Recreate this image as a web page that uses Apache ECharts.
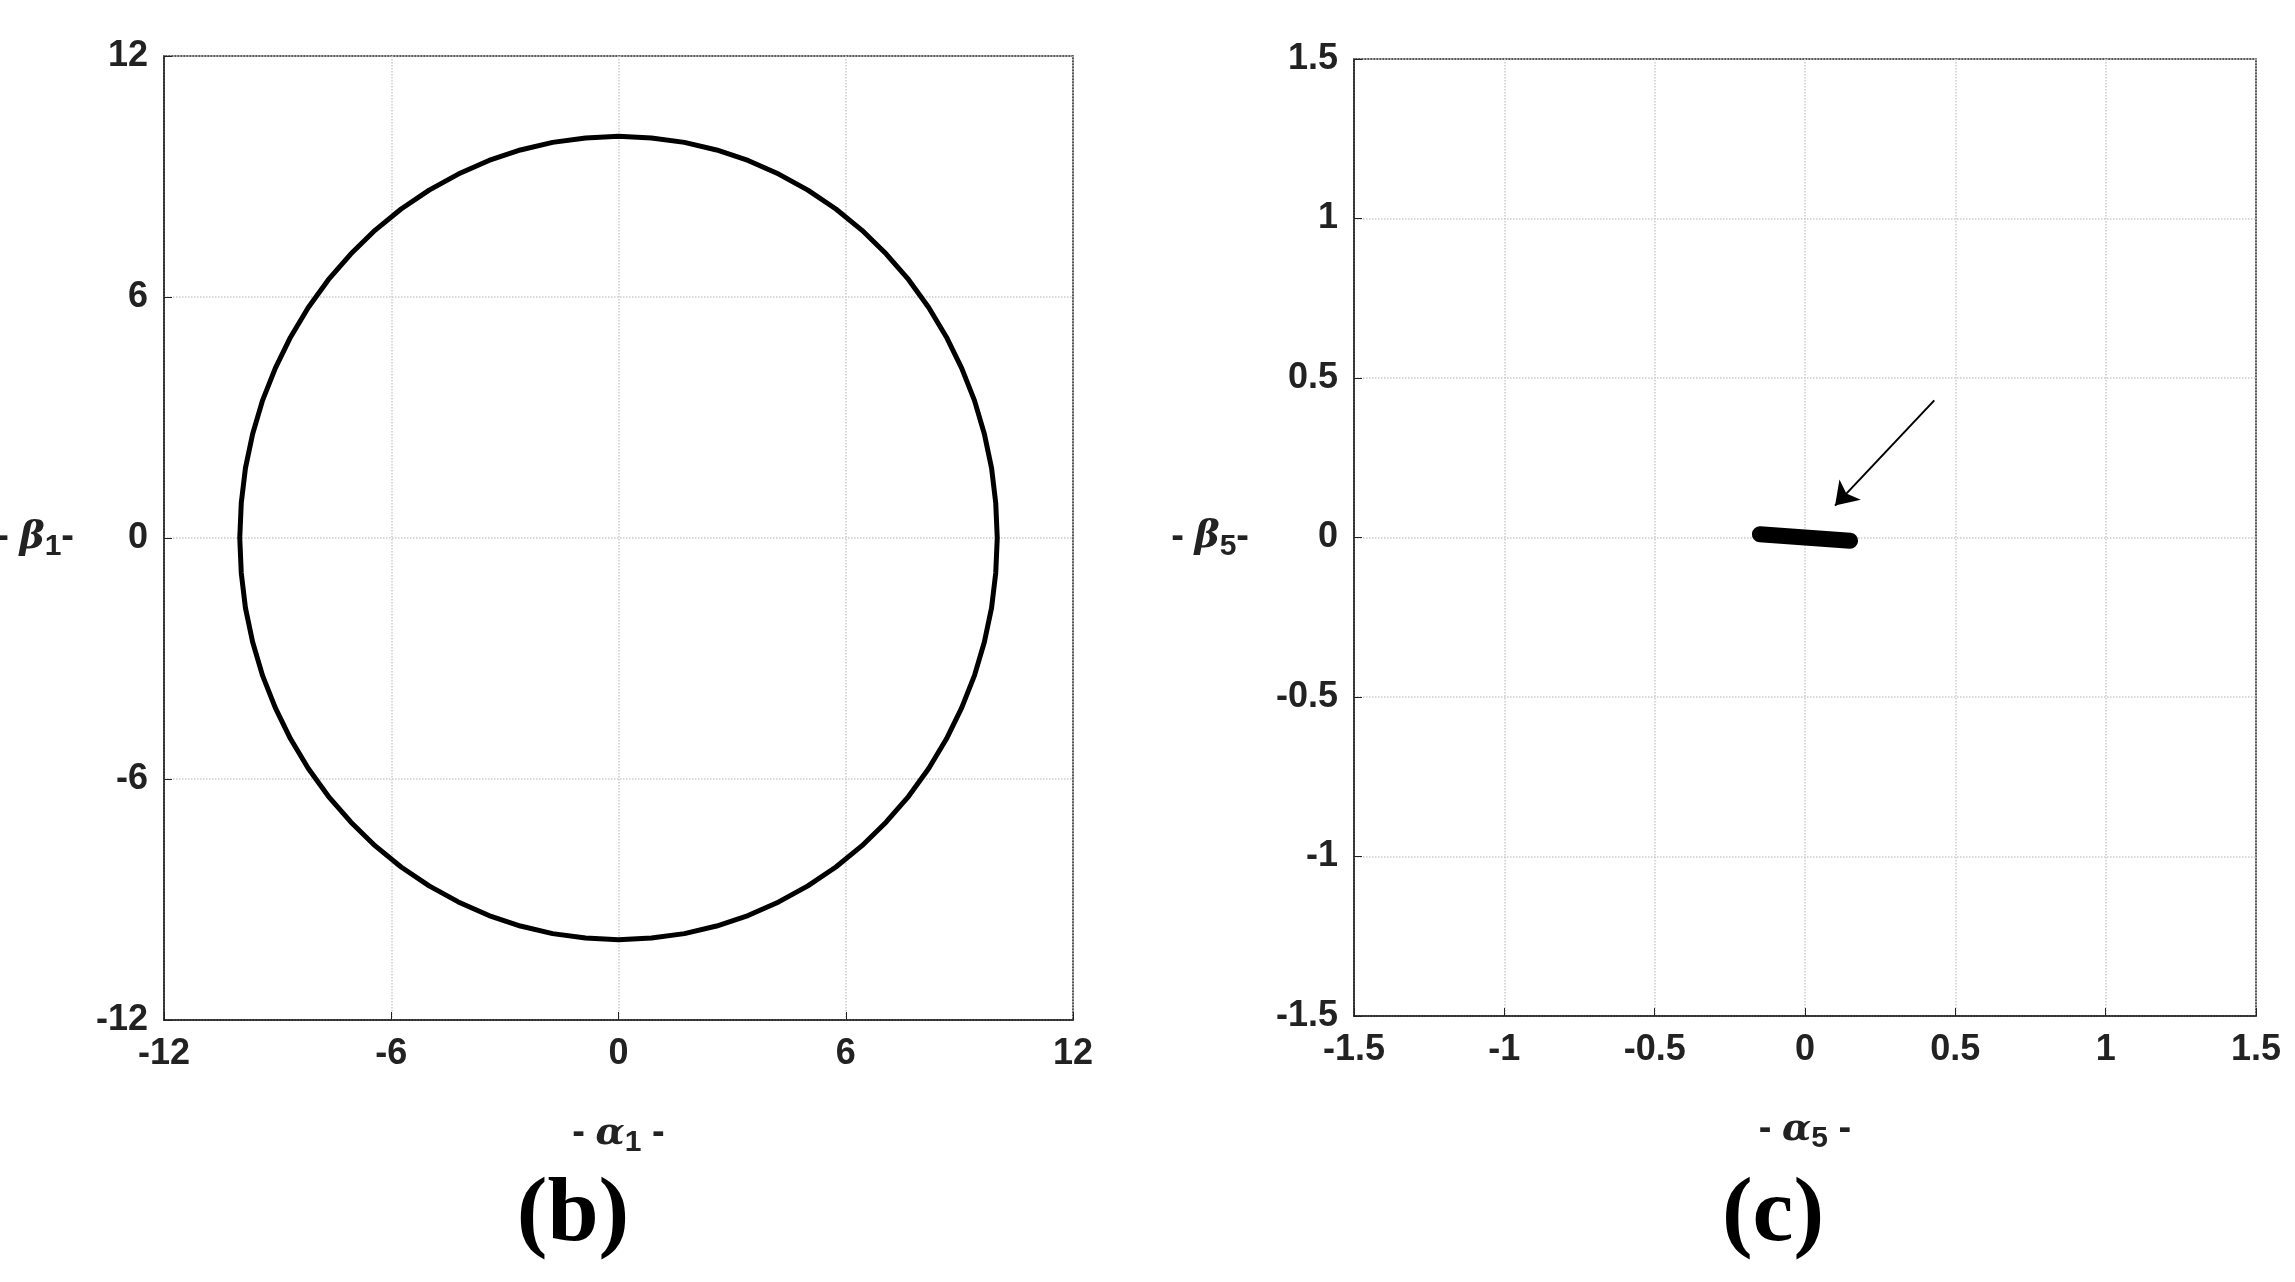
<!DOCTYPE html><html><head><meta charset="utf-8">
<script src="https://cdn.jsdelivr.net/npm/echarts@6/dist/echarts.min.js"></script>
<style>html,body{margin:0;background:#fff}#c{width:2295px;height:1282px}</style></head><body><div id="c"></div><script>
const circleX=[10,9.96,9.85,9.66,9.40,9.06,8.66,8.19,7.66,7.07,6.43,5.74,5,4.23,3.42,2.59,1.74,0.87,0,-0.87,-1.74,-2.59,-3.42,-4.23,-5,-5.74,-6.43,-7.07,-7.66,-8.19,-8.66,-9.06,-9.40,-9.66,-9.85,-9.96,-10,-9.96,-9.85,-9.66,-9.40,-9.06,-8.66,-8.19,-7.66,-7.07,-6.43,-5.74,-5,-4.23,-3.42,-2.59,-1.74,-0.87,0,0.87,1.74,2.59,3.42,4.23,5,5.74,6.43,7.07,7.66,8.19,8.66,9.06,9.40,9.66,9.85,9.96,10];
const circleY=[0,0.87,1.74,2.59,3.42,4.23,5,5.74,6.43,7.07,7.66,8.19,8.66,9.06,9.40,9.66,9.85,9.96,10,9.96,9.85,9.66,9.40,9.06,8.66,8.19,7.66,7.07,6.43,5.74,5,4.23,3.42,2.59,1.74,0.87,0,-0.87,-1.74,-2.59,-3.42,-4.23,-5,-5.74,-6.43,-7.07,-7.66,-8.19,-8.66,-9.06,-9.40,-9.66,-9.85,-9.96,-10,-9.96,-9.85,-9.66,-9.40,-9.06,-8.66,-8.19,-7.66,-7.07,-6.43,-5.74,-5,-4.23,-3.42,-2.59,-1.74,-0.87,0];
const segX=[-0.15,0.15], segY=[0.01,-0.01];
const arrowFrom=[0.43,0.43], arrowTo=[0.1,0.1];
const lab={fontFamily:'Liberation Sans',fontWeight:'bold',fontSize:36,color:'#222'};
function ax(min,max,iv,name,gap){return {type:'value',min,max,interval:iv,name,nameLocation:'middle',nameGap:gap,nameRotate:0,
 nameTextStyle:{fontFamily:'Liberation Sans',fontWeight:'bold',fontSize:38,color:'#222',rich:{s:{fontFamily:'Liberation Sans',fontWeight:'bold',fontSize:30,verticalAlign:'bottom',padding:[18,0,0,0]},g:{fontFamily:'DejaVu Serif',fontStyle:'italic',fontSize:38}}},
 axisLine:{show:true,onZero:false,lineStyle:{color:'#222',width:1.5}},axisTick:{show:true,inside:true,length:8,lineStyle:{color:'#222'}},
 axisLabel:Object.assign({margin:16},lab),splitLine:{show:true,lineStyle:{color:'#ccc',type:'dotted',width:1.5}}};}
const ch=echarts.init(document.getElementById('c'));
ch.setOption({animation:false,
 grid:[{left:164,top:56,width:909,height:964,show:true,borderColor:'#222',borderWidth:1.5,containLabel:false,outerBoundsMode:'none'},{left:1354,top:59,width:902,height:957,show:true,borderColor:'#222',borderWidth:1.5,containLabel:false,outerBoundsMode:'none'}],
 xAxis:[Object.assign(ax(-12,12,6,'- {g|α}{s|1} -',90),{gridIndex:0}),Object.assign(ax(-1.5,1.5,0.5,'- {g|α}{s|5} -',90),{gridIndex:1})],
 yAxis:[Object.assign(ax(-12,12,6,'- {g|β}{s|1}-',90),{gridIndex:0}),Object.assign(ax(-1.5,1.5,0.5,'- {g|β}{s|5}-',105),{gridIndex:1})],
 title:[{text:'(b)',left:568,textAlign:'center',top:1165,textStyle:{fontFamily:'Liberation Serif',fontWeight:'bold',fontSize:92,color:'#000'}},
        {text:'(c)',left:1768,textAlign:'center',top:1165,textStyle:{fontFamily:'Liberation Serif',fontWeight:'bold',fontSize:92,color:'#000'}}],
 series:[
  {type:'line',xAxisIndex:0,yAxisIndex:0,data:circleX.map((x,i)=>[x,circleY[i]]),smooth:false,showSymbol:false,lineStyle:{color:'#000',width:5}},
  {type:'line',xAxisIndex:1,yAxisIndex:1,data:segX.map((x,i)=>[x,segY[i]]),showSymbol:false,lineStyle:{color:'#000',width:16,cap:'round'}},
  {type:'lines',coordinateSystem:'cartesian2d',xAxisIndex:1,yAxisIndex:1,symbol:['none','arrow'],symbolSize:22,
   lineStyle:{color:'#000',width:2,opacity:1},data:[{coords:[arrowFrom,arrowTo]}]}
 ]});
</script></body></html>
